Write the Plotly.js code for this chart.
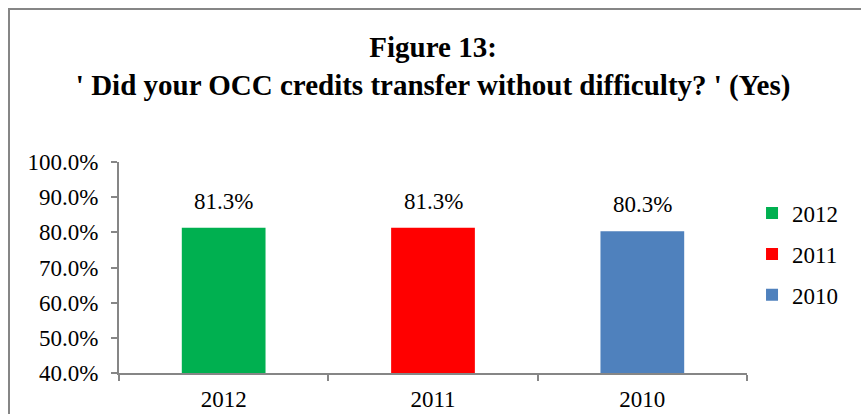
<!DOCTYPE html>
<html>
<head>
<meta charset="utf-8">
<script src="https://cdn.plot.ly/plotly-3.0.1.min.js"></script>
<style>
html,body{margin:0;padding:0;background:#fff;}
#wrap{position:relative;width:861px;height:414px;overflow:hidden;}
#frame{position:absolute;left:8px;top:8px;width:900px;height:450px;border-left:2px solid #868686;border-top:2px solid #868686;box-sizing:border-box;}
#chart{position:absolute;left:0;top:0;width:861px;height:414px;}
</style>
</head>
<body>
<div id="wrap">
<div id="frame"></div>
<div id="chart"></div>
</div>
<script>
const categories = ['2012', '2011', '2010'];
const values = [0.813, 0.813, 0.803];
const colors = ['#00B050', '#FF0000', '#4F81BD'];
const yTickVals = [0.4, 0.5, 0.6, 0.7, 0.8, 0.9, 1.0];
const yTickText = ['40.0%', '50.0%', '60.0%', '70.0%', '80.0%', '90.0%', '100.0%'];

const FONT = 'Liberation Serif';

const traces = categories.map((c, i) => ({
  type: 'bar',
  name: c,
  x: [c],
  y: [values[i]],
  width: 0.4,
  marker: {color: colors[i]},
  hoverinfo: 'none',
  legendgroup: 'g' + i
}));

// category index i locates each label over its bar
const annotations = categories.map((c, i) => ({
  x: i,
  y: values[i],
  xref: 'x',
  yref: 'y',
  text: (values[i] * 100).toFixed(1) + '%',
  showarrow: false,
  xanchor: 'center',
  yanchor: 'bottom',
  yshift: 12,
  font: {family: FONT, size: 23, color: '#000'}
}));

const layout = {
  width: 861,
  height: 414,
  font: {family: FONT, color: '#000'},
  paper_bgcolor: 'rgba(0,0,0,0)',
  plot_bgcolor: 'rgba(0,0,0,0)',
  margin: {l: 119, r: 114, t: 162, b: 41, autoexpand: false},
  barmode: 'overlay',
  annotations: annotations,
  title: {
    text: '<b>Figure 13:</b><br><b>\' Did your OCC credits transfer without difficulty? \' (Yes)</b>',
    font: {family: FONT, size: 29, color: '#000'},
    x: 0.503, xref: 'container', xanchor: 'center',
    y: 0.862, yref: 'container', yanchor: 'top'
  },
  xaxis: {
    type: 'category',
    categoryorder: 'array',
    categoryarray: categories,
    range: [-0.5, categories.length - 0.5],
    showline: true,
    linecolor: '#868686',
    linewidth: 2,
    ticks: 'outside',
    tickson: 'boundaries',
    ticklen: 6,
    tickcolor: '#868686',
    tickwidth: 2,
    ticklabelstandoff: 4,
    tickfont: {family: FONT, size: 23, color: '#000'},
    showgrid: false,
    zeroline: false,
    fixedrange: true
  },
  yaxis: {
    range: [0.4, 1.0],
    tickvals: yTickVals,
    ticktext: yTickText,
    showline: true,
    linecolor: '#868686',
    linewidth: 2,
    ticks: 'outside',
    ticklen: 6,
    tickcolor: '#868686',
    tickwidth: 2,
    ticklabelstandoff: 8,
    tickfont: {family: FONT, size: 23, color: '#000'},
    showgrid: false,
    zeroline: false,
    fixedrange: true
  },
  legend: {
    x: 1.008, xanchor: 'left',
    y: 0.86, yanchor: 'top',
    font: {family: FONT, size: 23, color: '#000'},
    traceorder: 'grouped',
    tracegroupgap: 8,
    itemwidth: 30,
    bgcolor: 'rgba(0,0,0,0)'
  },
  showlegend: true
};

Plotly.newPlot('chart', traces, layout, {displayModeBar: false, staticPlot: true});
</script>
</body>
</html>
